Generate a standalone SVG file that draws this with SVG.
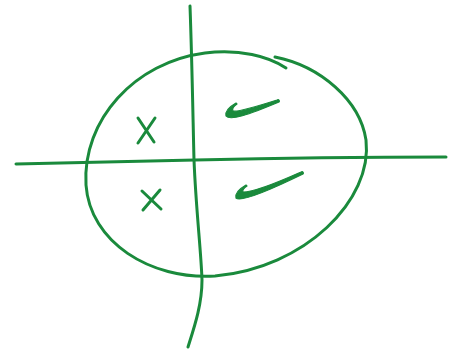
<svg xmlns="http://www.w3.org/2000/svg" width="450" height="360" viewBox="0 0 450 360">
<style>
.s{fill:none;stroke:#1a8a3c;stroke-width:3;stroke-linecap:round;stroke-linejoin:round}
.f{fill:#1a8a3c;stroke:#1a8a3c;stroke-width:1.2;stroke-linejoin:round}
</style>
<rect width="450" height="360" fill="#fff"/>
<g id="ellipse">
<path class="s" d="M 275,57 C 320,66 360,100 366,140 C 373,200 305,268 215,276 C 150,280 90,242 86,185 C 82,120 135,62 205,53 C 240,49 268,56 286,68"/>
</g>
<g id="axes">
<path class="s" d="M 190,6 C 192,60 193,120 194,160 C 196,210 201,250 202,280 C 202,305 194,328 188,347"/>
<path class="s" d="M 16,164 C 80,163 140,161 195,160 C 280,158 360,157 446,157"/>
</g>
<g id="cross-top">
<path class="s" d="M 138,118 L 154,142 M 155,118 L 138,143"/>
</g>
<g id="cross-bottom">
<path class="s" d="M 142,191 L 161,209 M 160,190 L 143,210"/>
</g>
<g id="check-top">
<path class="f" d="M 236,103 C 229,107 225,112 226,116 C 230,121 248,115 279,102 C 280,101 279,99 277,100 C 252,108 238,112 233,111 C 232,109 234,106 237,104 Z"/>
</g>
<g id="check-bottom">
<path class="f" d="M 246,185 C 239,189 235,194 236,198 C 240,202 262,194 303,174 C 304,173 303,171 301,172 C 272,185 252,192 243,192 C 242,190 244,188 247,186 Z"/>
</g>
</svg>
